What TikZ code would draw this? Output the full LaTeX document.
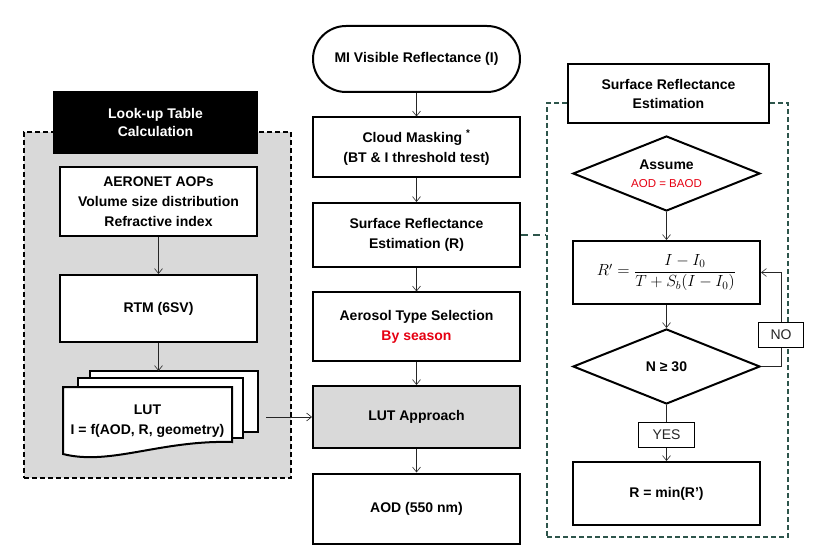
\documentclass[tikz,border=0pt]{standalone}
\usepackage{amsmath}
\usepackage{graphicx}
\usepackage{fontspec}
\setmainfont{Liberation Sans}
\usetikzlibrary{positioning,shapes.geometric,arrows.meta}
\definecolor{panelgray}{RGB}{217,217,217}
\definecolor{panelgreen}{RGB}{45,85,75}
\definecolor{notered}{RGB}{230,0,18}

\begin{document}
\begin{tikzpicture}[x=1pt, y=-1pt,
node distance = 23.5pt and 30pt,
txt/.style={font=\fontsize{14}{20}\selectfont\bfseries},
box/.style={txt, rectangle, draw=black, line width=2pt, fill=white, align=center, inner sep=2pt},
midbox/.style={box, minimum width=207pt},
lutbox/.style={box, minimum width=197pt},
srebox/.style={box, minimum width=187pt},
decision/.style={txt, diamond, draw=black, line width=2pt, fill=white, align=center, inner sep=0pt, aspect=2.5, minimum width=187pt, minimum height=75pt},
tag/.style={rectangle, draw=black, line width=0.7pt, fill=white, font=\fontsize{14}{15}\selectfont, minimum height=25pt, inner sep=2pt},
sheet/.style={draw=black, line width=2pt, fill=white},
panel/.style={rectangle, line width=2pt, dash pattern=on 5pt off 3pt},
flow/.style={-{Straight Barb[length=5pt,width=8pt]}, line width=0.6pt, black!85},
link/.style={line width=2pt, panelgreen, dash pattern=on 7pt off 5pt}]

\useasboundingbox (0,0) rectangle (819,553);

% look-up table panel
\node[panel, draw=black, fill=panelgray, minimum width=267pt, minimum height=346pt] (lutbg) at (157.5,305) {};
\node[box, fill=black, text=white, minimum width=203pt, minimum height=61pt] (lutcalc) at (155.5,122.5) {Look-up Table\\[-2pt]Calculation};
\node[lutbox, minimum height=69pt] (aeronet) at (158.5,201.5) {AERONET AOPs\\Volume size distribution\\Refractive index};
\node[lutbox, minimum height=67pt] (rtm) at (158.5,308.5) {RTM (6SV)};

% stacked LUT sheets
\draw[sheet] (90,371) rectangle (258,432);
\draw[sheet] (78,378) rectangle (243,438);
\draw[sheet] (63,387) -- (232,387) -- (232,442) .. controls (160,440) and (110,466) .. (63,454) -- cycle;
\node[txt, align=center] (lut) at (147.5,421) {LUT\\I = f(AOD, R, geometry)};
\coordinate (lutstack) at (158.5,371);
\coordinate (lutout) at (266,417);

% main column
\node[midbox, rounded corners=33pt, minimum height=66pt] (source) at (416.5,59) {MI Visible Reflectance (I)};
\node[midbox, minimum height=60pt] (cloud) [below = of source] {Cloud Masking \textsuperscript{*}\\(BT \& I threshold test)};
\node[midbox, minimum height=64pt] (surface) [below = of cloud] {Surface Reflectance\\Estimation (R)};
\node[midbox, minimum height=68pt] (aerosol) [below = of surface] {Aerosol Type Selection\\\textcolor{notered}{By season}};
\node[midbox, fill=panelgray, minimum height=62pt] (lutapp) [below = of aerosol] {LUT Approach};
\node[midbox, minimum height=70pt] (aod) [below = of lutapp] {AOD (550 nm)};

% surface reflectance panel
\node[panel, draw=panelgreen, minimum width=241pt, minimum height=434pt] (srebg) at (667.5,320) {};
\node[box, minimum width=201pt, minimum height=59pt] (sretitle) at (668.5,93.5) {Surface Reflectance\\[-1pt]Estimation};
\node[decision] (assume) at (666.5,173.5) {Assume\\[-2pt]{\fontsize{11.5}{14}\selectfont\mdseries\color{notered}AOD = BAOD}};
\node[srebox, minimum height=63pt] (refl) [below = 28pt of assume] {\scalebox{1.12}{$R' = \dfrac{I - I_0}{T + S_b(I - I_0)}$}};
\node[decision] (check) [below = 23pt of refl] {N ≥ 30};
\node[srebox, minimum height=63pt] (result) [below = 56pt of check] {R = min(R’)};

\draw[flow] (aeronet) -- (rtm);
\draw[flow] (rtm) -- (lutstack);
\draw[flow] (lutout) -- (lutout -| lutapp.west);

\draw[flow] (source) -- (cloud);
\draw[flow] (cloud) -- (surface);
\draw[flow] (surface) -- (aerosol);
\draw[flow] (aerosol) -- (lutapp);
\draw[flow] (lutapp) -- (aod);

\draw[link] (surface.east) -- (srebg.west |- surface.east);

\draw[flow] (assume) -- (refl);
\draw[flow] (refl) -- (check);
\draw[flow] (check) -- node[tag, minimum width=56pt, pos=0.53] (yes) {YES} (result);
\draw[flow] (check.east) -- ++(20,0) |- node[tag, minimum width=45pt, pos=0.17] (no) {NO} (refl.east);
\end{tikzpicture}
\end{document}
